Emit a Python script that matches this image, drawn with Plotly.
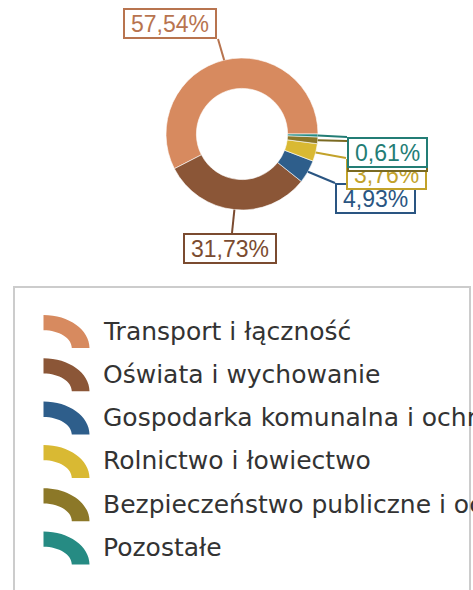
import math
import plotly.graph_objects as go

# Budget structure by section (percent of total spending)
categories = [
    "Transport i łączność",
    "Oświata i wychowanie",
    "Gospodarka komunalna i ochrona środowiska",
    "Rolnictwo i łowiectwo",
    "Bezpieczeństwo publiczne i ochrona przeciwpożarowa",
    "Pozostałe",
]
shares = [57.54, 31.73, 4.93, 3.76, 1.43, 0.61]

slice_colors = ["#D78A5F", "#8B5637", "#2E5E8B", "#D9B933", "#8C7828", "#268B83"]
label_colors = ["#B8744F", "#7B4B30", "#2A5582", "#C2A22A", "#7A6A22", "#237D75"]

# Callout placement (pixel units, top-left corner of each box) and connector ends
label_left = [123, 183, 335, 346, 347, 347]
label_top = [8, 233, 183, 159, 141, 137]
connector_end = [(218, 39), (232, 233), (335, 183), (346, 158), (347, 141), (347, 137)]

W, H = 473, 590
CX, CY, R = 242, 134, 76
LABEL_FONT = 23
LABEL_H = 31


def px(x):
    return x / W


def py(y):
    return 1 - y / H


def fmt(v):
    return f"{v:.2f}".replace(".", ",") + "%"


CHAR_W = {",": 0.278, "%": 0.889}


def text_width(s, size):
    return sum(CHAR_W.get(c, 0.556) for c in s) * size


total = sum(shares)
# Counterclockwise pies in plotly lay the first slice clockwise from `rotation`;
# shift so the first slice begins at 3 o'clock and the rest follow counterclockwise.
rotation = 90 - 360 * shares[0] / total

fig = go.Figure()
fig.add_trace(go.Pie(
    labels=categories,
    values=shares,
    sort=False,
    direction="counterclockwise",
    rotation=rotation,
    hole=0.6,
    textinfo="none",
    hoverinfo="label+percent",
    marker=dict(colors=slice_colors, line=dict(color="rgba(255,255,255,0.6)", width=1)),
    domain=dict(x=[px(CX - R), px(CX + R)], y=[py(CY + R), py(CY - R)]),
    showlegend=False,
))

shapes = []
annotations = []
cum = 0.0
for i, v in enumerate(shares):
    mid = (cum + v / 2) / total
    cum += v
    theta = 2 * math.pi * mid
    sx = CX + R * math.cos(theta)
    sy = CY - R * math.sin(theta)
    ex, ey = connector_end[i]
    shapes.append(dict(
        type="line", xref="paper", yref="paper",
        x0=px(sx), y0=py(sy), x1=px(ex), y1=py(ey),
        line=dict(color=label_colors[i], width=2),
    ))
    txt = fmt(v)
    bw = text_width(txt, LABEL_FONT) + 16
    annotations.append(dict(
        xref="paper", yref="paper",
        x=px(label_left[i]), y=py(label_top[i]),
        xanchor="left", yanchor="top",
        text=txt, showarrow=False,
        font=dict(family="Liberation Sans, Arial", size=LABEL_FONT, color=label_colors[i]),
        bgcolor="white", bordercolor=label_colors[i], borderwidth=2, borderpad=0,
        width=bw - 4, height=LABEL_H - 4, align="center", valign="middle",
    ))

# Legend frame
shapes.append(dict(
    type="rect", xref="paper", yref="paper",
    x0=px(14), x1=px(470), y0=py(287), y1=py(610),
    line=dict(color="#CCCCCC", width=2), fillcolor="rgba(0,0,0,0)",
))

# Legend entries: arc-shaped swatches with labels
K = 0.5523
ROW0, ROW_STEP = 348, 43.3
ICON_X = 43.5
RXO, RYO, RXI, RYI = 46, 33, 28.3, 17.7
for i, name in enumerate(categories):
    cy = ROW0 + ROW_STEP * i
    pts = [
        ("M", [(ICON_X, cy - RYO)]),
        ("C", [(ICON_X + K * RXO, cy - RYO), (ICON_X + RXO, cy - K * RYO), (ICON_X + RXO, cy)]),
        ("L", [(ICON_X + RXI, cy)]),
        ("C", [(ICON_X + RXI, cy - K * RYI), (ICON_X + K * RXI, cy - RYI), (ICON_X, cy - RYI)]),
    ]
    path = " ".join(
        cmd + " " + " ".join(f"{px(x):.5f},{py(y):.5f}" for x, y in p) for cmd, p in pts
    ) + " Z"
    shapes.append(dict(
        type="path", xref="paper", yref="paper", path=path,
        fillcolor=slice_colors[i], line=dict(width=0),
    ))
    annotations.append(dict(
        xref="paper", yref="paper",
        x=px(101), y=py(cy - 17),
        xanchor="left", yanchor="middle",
        text=name, showarrow=False,
        font=dict(family="DejaVu Sans, Verdana", size=25, color="#333333"),
    ))

fig.update_layout(
    width=W, height=H,
    margin=dict(l=0, r=0, t=0, b=0),
    paper_bgcolor="white",
    plot_bgcolor="white",
    shapes=shapes,
    annotations=annotations,
)

fig.write_html("out.html")
